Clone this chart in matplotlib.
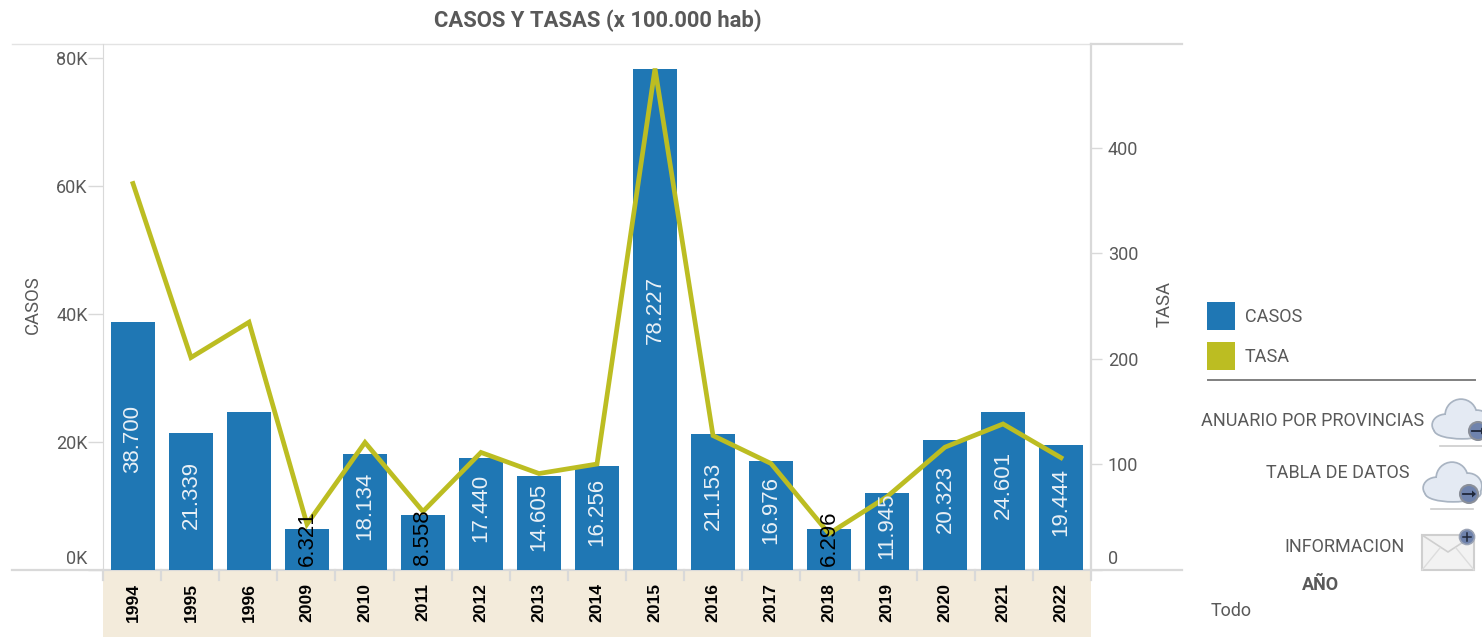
#!/usr/bin/env python3
import matplotlib
matplotlib.use('Agg')
import matplotlib.pyplot as plt
from matplotlib.patches import Rectangle, Ellipse, Circle, Polygon
from matplotlib.transforms import ScaledTranslation

plt.rcParams['font.family'] = ['Roboto', 'DejaVu Sans']

years = ['1994', '1995', '1996', '2009', '2010', '2011', '2012', '2013', '2014',
         '2015', '2016', '2017', '2018', '2019', '2020', '2021', '2022']
casos = [38700, 21339, 24650, 6321, 18134, 8558, 17440, 14605, 16256,
         78227, 21153, 16976, 6296, 11945, 20323, 24601, 19444]
tasa = [366, 201, 234.5, 43, 120.5, 55, 111, 91, 100,
        475, 127, 100.5, 34, 69, 116, 138, 106]
# 1996 has no label in the original
etiquetas = ['38.700', '21.339', '', '6.321', '18.134', '8.558', '17.440', '14.605', '16.256',
             '78.227', '21.153', '16.976', '6.296', '11.945', '20.323', '24.601', '19.444']

W, H = 1482, 637
AZUL = '#1f77b4'
OLIVA = '#bcbd22'
GRIS = '#595959'
LINEA = '#d9d9d9'
BEIGE = '#f3ebdb'
ARIAL = ['Liberation Sans', 'DejaVu Sans']


def cloud(ov, x, y):
    # cloud icon, x/y is its top left corner
    parts = [(14, 27, 26, 20), (29, 17, 30, 30), (45, 25, 26, 24), (30, 32, 54, 16)]
    for cx, cy, w, h in parts:
        ov.add_patch(Ellipse((x + cx, y + cy), w, h, fc='#a9b4c2', ec='#a9b4c2', lw=2.5, zorder=5))
    for cx, cy, w, h in parts:
        ov.add_patch(Ellipse((x + cx, y + cy), w, h, fc='#e4eaf3', ec='none', zorder=6))
    ov.add_patch(Circle((x + 46, y + 33), 9, fc='#6f83ad', ec='#8a8f99', lw=1.5, zorder=7))
    ov.plot([x + 40, x + 50], [y + 33, y + 33], color='#20283a', lw=1.3, zorder=8)
    ov.add_patch(Polygon([(x + 49, y + 29.5), (x + 53, y + 33), (x + 49, y + 36.5)], fc='#20283a', ec='none', zorder=8))
    ov.plot([x + 8, x + 50], [y + 48, y + 48], color='#cccccc', lw=1.2, zorder=5)


def envelope(ov, x, y):
    ov.add_patch(Rectangle((x, y + 8), 52, 35, fc='#f2f2f2', ec='#cfcfcf', lw=1.5, zorder=5))
    ov.plot([x, x + 26, x + 52], [y + 8, y + 25, y + 8], color='#cfcfcf', lw=1.2, zorder=6)
    ov.plot([x, x + 18], [y + 43, y + 21], color='#dddddd', lw=1, zorder=6)
    ov.plot([x + 52, x + 34], [y + 43, y + 21], color='#dddddd', lw=1, zorder=6)
    ov.add_patch(Circle((x + 45, y + 10), 7.5, fc='#6f83ad', ec='#9aa3b5', lw=1.2, zorder=7))
    ov.plot([x + 41, x + 49], [y + 10, y + 10], color='#20283a', lw=1.1, zorder=8)
    ov.plot([x + 45, x + 45], [y + 6, y + 14], color='#20283a', lw=1.1, zorder=8)


def main():
    fig = plt.figure(figsize=(W/100, H/100), dpi=100)

    # pixel layer for everything around the plot
    ov = fig.add_axes([0, 0, 1, 1], zorder=0)
    ov.set_xlim(0, W)
    ov.set_ylim(H, 0)
    ov.axis('off')

    ax = fig.add_axes([103/W, 1 - 569.5/H, 988/W, 525.5/H], zorder=2)
    x = list(range(len(years)))
    ax.bar(x, casos, width=0.759, color=AZUL, zorder=2)
    ax.set_xlim(-0.517, 16.517)
    ax.set_ylim(0, 82190)
    ax.patch.set_alpha(0)
    for s in ['top', 'bottom', 'right']:
        ax.spines[s].set_visible(False)
    ax.spines['left'].set_color(LINEA)
    ax.set_yticks([0, 20000, 40000, 60000, 80000])
    ax.set_yticklabels(['0K', '20K', '40K', '60K', '80K'], color=GRIS, fontsize=13)
    ax.tick_params(axis='y', length=11, width=1, color=LINEA, pad=0)
    ax.set_xticks(x)
    ax.set_xticklabels(years, rotation=90, fontsize=12.6, fontweight='bold', color='black', family=ARIAL)
    ax.tick_params(axis='x', length=0, pad=9.5)

    ax2 = ax.twinx()
    ax2.set_zorder(3)
    ax2.plot(x, tasa, color=OLIVA, lw=3.4, solid_joinstyle='miter', zorder=3)
    ax2.set_ylim(0, 498.3)
    for s in ['top', 'bottom', 'left']:
        ax2.spines[s].set_visible(False)
    ax2.spines['right'].set_color(LINEA)
    ax2.spines['right'].set_linewidth(1.6)
    ax2.set_yticks([0, 100, 200, 300, 400])
    ax2.set_yticklabels(['0', '100', '200', '300', '400'], color=GRIS, fontsize=13)
    ax2.tick_params(axis='y', length=8, width=1, color=LINEA, pad=4)

    # the zero labels ride above the base line
    for a in (ax, ax2):
        lab = a.get_yticklabels()[0]
        lab.set_va('bottom')
        lab.set_transform(lab.get_transform() + ScaledTranslation(0, 2/100, fig.dpi_scale_trans))

    # value labels sit slightly above the bar centre, small bars go black
    for i, (v, t) in enumerate(zip(casos, etiquetas)):
        if not t:
            continue
        col = 'black' if v < 10000 else '#e9f0f6'
        ax2.text(i, max(v*0.51 + 700, 4850)*498.3/82190, t, rotation=90, ha='center', va='center',
                 color=col, fontsize=16, family=ARIAL, zorder=4)

    # frame lines and the beige band of the categories
    ov.add_patch(Rectangle((103, 571), 988, 66, fc=BEIGE, ec='none', zorder=1))
    ov.plot([12, 1091], [44, 44], color='#e3e3e3', lw=1, zorder=2)
    ov.plot([1091, 1182], [44, 44], color=LINEA, lw=1.6, zorder=2)
    ov.plot([12, 1182], [570, 570], color=LINEA, lw=1.6, zorder=2)
    for i in range(len(years) + 1):
        px = 103 + i*988/len(years)
        ov.plot([px, px], [570, 580], color=LINEA, lw=1.6, zorder=2)

    ov.text(598, 21, 'CASOS Y TASAS (x 100.000 hab)', ha='center', va='center',
            fontsize=15.8, fontweight='bold', color=GRIS)
    ov.text(33, 305, 'CASOS', rotation=90, ha='center', va='center', fontsize=13.3, color=GRIS)
    ov.text(1165, 304, 'TASA', rotation=90, ha='center', va='center', fontsize=13.3, color=GRIS)

    # legend and side panel
    ov.add_patch(Rectangle((1207, 302), 28, 28, fc=AZUL, ec='none'))
    ov.add_patch(Rectangle((1207, 342), 28, 28, fc=OLIVA, ec='none'))
    ov.text(1245, 317, 'CASOS', va='center', fontsize=13, color=GRIS)
    ov.text(1245, 357, 'TASA', va='center', fontsize=13, color=GRIS)
    ov.plot([1208, 1475], [380, 380], color='#808080', lw=1.4)
    ov.text(1424, 421, 'ANUARIO POR PROVINCIAS', ha='right', va='center', fontsize=13, color=GRIS)
    ov.text(1410, 473, 'TABLA DE DATOS', ha='right', va='center', fontsize=13, color=GRIS)
    ov.text(1405, 547, 'INFORMACION', ha='right', va='center', fontsize=13, color=GRIS)
    ov.text(1320, 585, 'AÑO', ha='center', va='center', fontsize=13, fontweight='bold', color=GRIS)
    ov.text(1211, 611, 'Todo', va='center', fontsize=13, color=GRIS)
    cloud(ov, 1432, 398)
    cloud(ov, 1423, 461)
    envelope(ov, 1422, 527)

    fig.savefig('out.png', dpi=100)


if __name__ == '__main__':
    main()
